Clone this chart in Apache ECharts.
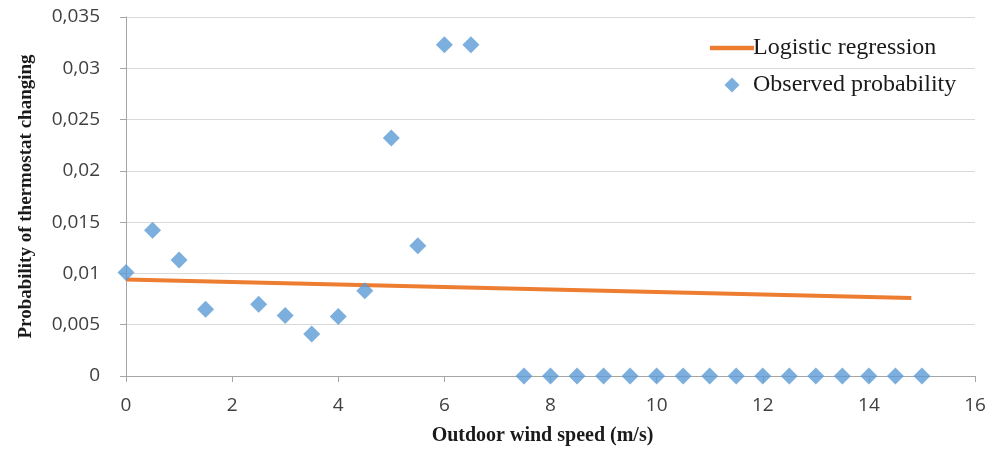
<!DOCTYPE html>
<html><head><meta charset="utf-8">
<script src="https://cdn.jsdelivr.net/npm/echarts@6/dist/echarts.min.js"></script>
<style>html,body{margin:0;padding:0;background:#fff}#c{width:1008px;height:454px}</style>
</head><body><div id="c"></div>
<script>
const windSpeed = [0, 0.5, 1, 1.5, 2.5, 3, 3.5, 4, 4.5, 5, 5.5, 6, 6.5, 7.5, 8, 8.5, 9, 9.5, 10, 10.5, 11, 11.5, 12, 12.5, 13, 13.5, 14, 14.5, 15];
const observed = [0.0101, 0.0142, 0.0113, 0.0065, 0.0070, 0.0059, 0.0041, 0.0058, 0.0083, 0.0232, 0.0127, 0.0323, 0.0323, 0, 0, 0, 0, 0, 0, 0, 0, 0, 0, 0, 0, 0, 0, 0, 0];
const logitX = [0, 5, 10, 14.8];
const logitY = [0.0094, 0.0088, 0.0082, 0.0076];
const seriesNames = ['Logistic regression', 'Observed probability'];
const axisTitles = {x: 'Outdoor wind speed (m/s)', y: 'Probability of thermostat changing'};

const chart = echarts.init(document.getElementById('c'));
const tickFont = {fontFamily: 'Open Sans', fontSize: 19, color: '#404040'};
chart.setOption({
  animation: false,
  grid: {left: 126, right: 33, top: 17, bottom: 78},
  legend: {
    orient: 'vertical', left: 705, top: 31, itemGap: 13, itemWidth: 44, itemHeight: 15,
    symbolKeepAspect: true,
    textStyle: {fontFamily: 'Liberation Serif', fontSize: 24, color: '#1a1a1a', padding: [0,0,0,-6]},
    data: [
      {name: seriesNames[0], icon: 'path://M0,0 L44,0 L44,4.5 L0,4.5 Z'},
      {name: seriesNames[1], icon: 'path://M0,-1 L1,0 L0,1 L-1,0 Z'}
    ]
  },
  xAxis: {
    type: 'value', min: 0, max: 16, interval: 2,
    name: axisTitles.x, nameLocation: 'middle', nameGap: 50,
    nameTextStyle: {fontFamily: 'Liberation Serif', fontWeight: 'bold', fontSize: 20, color: '#1a1a1a', padding: [0, 16, 0, 0]},
    axisLine: {lineStyle: {color: '#a6a6a6'}},
    axisTick: {show: true, length: 6, lineStyle: {color: '#a6a6a6'}},
    axisLabel: Object.assign({margin: 20}, tickFont),
    splitLine: {show: false}
  },
  yAxis: {
    type: 'value', min: 0, max: 0.035, interval: 0.005,
    name: axisTitles.y, nameLocation: 'middle', nameGap: 90, nameRotate: 90,
    nameTextStyle: {fontFamily: 'Liberation Serif', fontWeight: 'bold', fontSize: 19, color: '#1a1a1a'},
    axisLine: {show: true, lineStyle: {color: '#a6a6a6'}},
    axisTick: {show: true, length: 6, lineStyle: {color: '#a6a6a6'}},
    axisLabel: Object.assign({margin: 26, formatter: v => v === 0 ? '0' : String(+v.toFixed(3)).replace('.', ',')}, tickFont),
    splitLine: {lineStyle: {color: '#d9d9d9'}}
  },
  series: [
    {
      name: seriesNames[0], type: 'line', showSymbol: false, symbol: 'none',
      data: logitX.map((x, i) => [x, logitY[i]]),
      lineStyle: {color: '#ED7D31', width: 4}, itemStyle: {color: '#ED7D31'}, z: 2
    },
    {
      name: seriesNames[1], type: 'scatter', symbol: 'diamond', symbolSize: 17,
      data: windSpeed.map((x, i) => [x, observed[i]]),
      itemStyle: {color: '#5B9BD5'}, z: 3
    }
  ]
});
</script></body></html>
